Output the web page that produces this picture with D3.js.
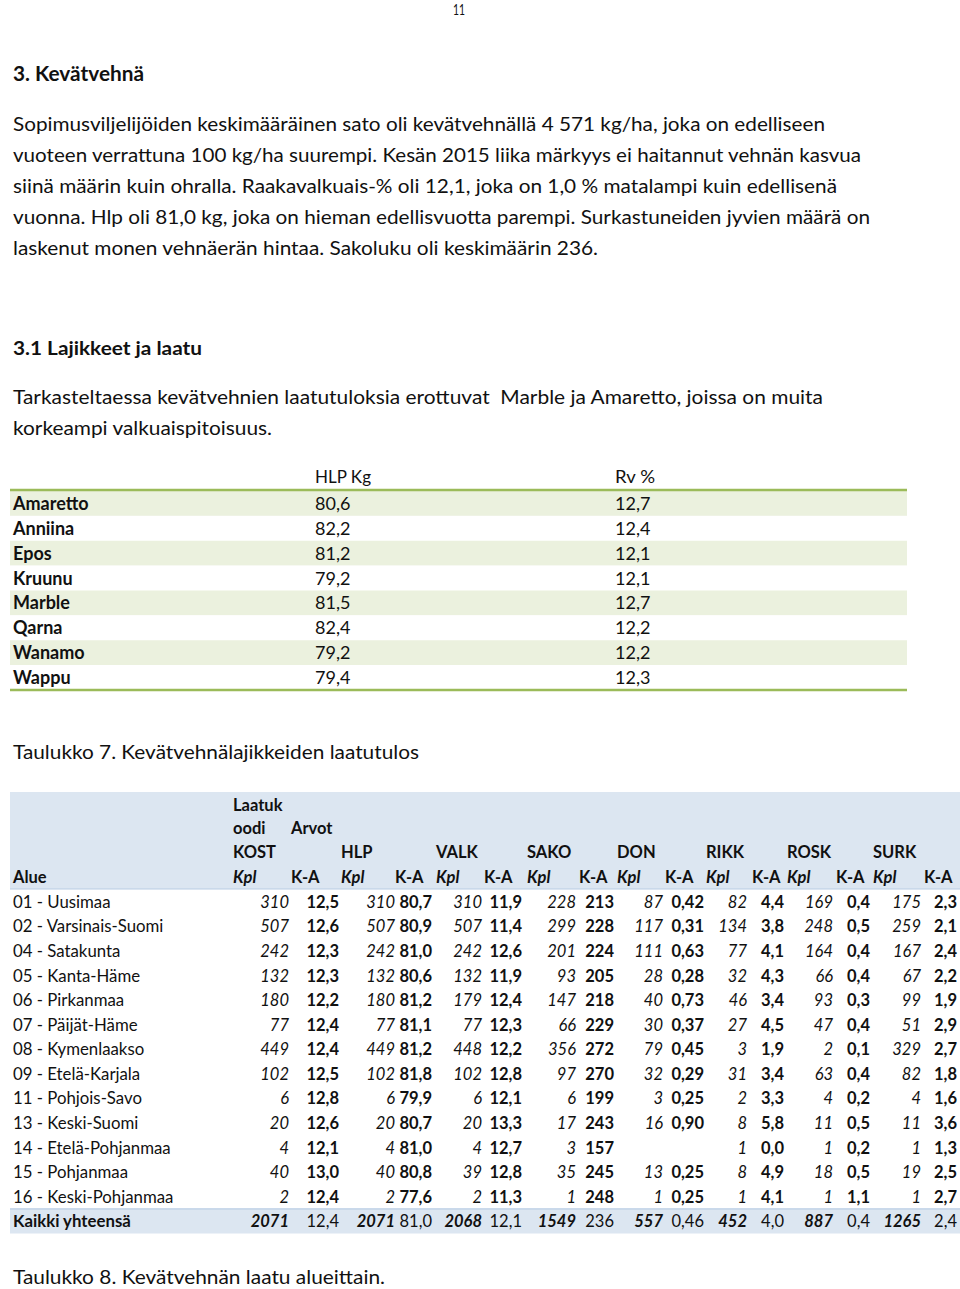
<!DOCTYPE html>
<html>
<head>
<meta charset="utf-8">
<script src="https://cdn.jsdelivr.net/npm/d3@7"></script>
<style>
  body { margin: 0; background: #fff; }
  svg text { font-family: Lato, "Open Sans", sans-serif; fill: #111; white-space: pre; }
</style>
</head>
<body>
<svg width="960" height="1289"></svg>
<script>
// page text
var pageNo = "11";
var paragraph1 = [
  "Sopimusviljelijöiden keskimääräinen sato oli kevätvehnällä 4 571 kg/ha, joka on edelliseen",
  "vuoteen verrattuna 100 kg/ha suurempi. Kesän 2015 liika märkyys ei haitannut vehnän kasvua",
  "siinä määrin kuin ohralla. Raakavalkuais-% oli 12,1, joka on 1,0 % matalampi kuin edellisenä",
  "vuonna. Hlp oli 81,0 kg, joka on hieman edellisvuotta parempi. Surkastuneiden jyvien määrä on",
  "laskenut monen vehnäerän hintaa. Sakoluku oli keskimäärin 236."
];
var paragraph2 = [
  "Tarkasteltaessa kevätvehnien laatutuloksia erottuvat  Marble ja Amaretto, joissa on muita",
  "korkeampi valkuaispitoisuus."
];

// Taulukko 7
var varieties = ["Amaretto", "Anniina", "Epos", "Kruunu", "Marble", "Qarna", "Wanamo", "Wappu"];
var hlpKg = [80.6, 82.2, 81.2, 79.2, 81.5, 82.4, 79.2, 79.4];
var rvPct = [12.7, 12.4, 12.1, 12.1, 12.7, 12.2, 12.2, 12.3];

// Taulukko 8
var regions = ["01 - Uusimaa", "02 - Varsinais-Suomi", "04 - Satakunta", "05 - Kanta-Häme",
  "06 - Pirkanmaa", "07 - Päijät-Häme", "08 - Kymenlaakso", "09 - Etelä-Karjala",
  "11 - Pohjois-Savo", "13 - Keski-Suomi", "14 - Etelä-Pohjanmaa", "15 - Pohjanmaa",
  "16 - Keski-Pohjanmaa", "Kaikki yhteensä"];
var measures = ["KOST", "HLP", "VALK", "SAKO", "DON", "RIKK", "ROSK", "SURK"];
var kostKpl = [310, 507, 242, 132, 180, 77, 449, 102, 6, 20, 4, 40, 2, 2071];
var kostKA  = [12.5, 12.6, 12.3, 12.3, 12.2, 12.4, 12.4, 12.5, 12.8, 12.6, 12.1, 13.0, 12.4, 12.4];
var hlpKpl  = [310, 507, 242, 132, 180, 77, 449, 102, 6, 20, 4, 40, 2, 2071];
var hlpKA   = [80.7, 80.9, 81.0, 80.6, 81.2, 81.1, 81.2, 81.8, 79.9, 80.7, 81.0, 80.8, 77.6, 81.0];
var valkKpl = [310, 507, 242, 132, 179, 77, 448, 102, 6, 20, 4, 39, 2, 2068];
var valkKA  = [11.9, 11.4, 12.6, 11.9, 12.4, 12.3, 12.2, 12.8, 12.1, 13.3, 12.7, 12.8, 11.3, 12.1];
var sakoKpl = [228, 299, 201, 93, 147, 66, 356, 97, 6, 17, 3, 35, 1, 1549];
var sakoKA  = [213, 228, 224, 205, 218, 229, 272, 270, 199, 243, 157, 245, 248, 236];
var donKpl  = [87, 117, 111, 28, 40, 30, 79, 32, 3, 16, null, 13, 1, 557];
var donKA   = [0.42, 0.31, 0.63, 0.28, 0.73, 0.37, 0.45, 0.29, 0.25, 0.90, null, 0.25, 0.25, 0.46];
var rikkKpl = [82, 134, 77, 32, 46, 27, 3, 31, 2, 8, 1, 8, 1, 452];
var rikkKA  = [4.4, 3.8, 4.1, 4.3, 3.4, 4.5, 1.9, 3.4, 3.3, 5.8, 0.0, 4.9, 4.1, 4.0];
var roskKpl = [169, 248, 164, 66, 93, 47, 2, 63, 4, 11, 1, 18, 1, 887];
var roskKA  = [0.4, 0.5, 0.4, 0.4, 0.3, 0.4, 0.1, 0.4, 0.2, 0.5, 0.2, 0.5, 1.1, 0.4];
var surkKpl = [175, 259, 167, 67, 99, 51, 329, 82, 4, 11, 1, 19, 1, 1265];
var surkKA  = [2.3, 2.1, 2.4, 2.2, 1.9, 2.9, 2.7, 1.8, 1.6, 3.6, 1.3, 2.5, 2.7, 2.4];

var fi = d3.formatLocale({decimal: ",", thousands: "", grouping: [3], currency: ["", ""]});

var svg = d3.select("svg");
svg.append("rect").attr("width", 960).attr("height", 1289).attr("fill", "#fff");

// helper: text line, optionally stretched to a measured width
function line(x, y, str, size, opts) {
  opts = opts || {};
  var t = svg.append("text")
    .attr("x", x).attr("y", y)
    .attr("font-size", size)
    .attr("font-weight", opts.bold ? "bold" : null)
    .attr("font-style", opts.italic ? "italic" : null)
    .attr("text-anchor", opts.anchor || "start")
    .text(str);
  if (opts.width) t.attr("textLength", opts.width).attr("lengthAdjust", "spacingAndGlyphs");
  return t;
}

line(459, 15, pageNo, 16, {anchor: "middle", width: 12});
line(13, 81, "3. Kevätvehnä", 20, {bold: true, width: 131});

var paraW1 = [812, 848, 824, 857, 585];
paragraph1.forEach(function(s, i) { line(13, 131 + i * 31, s, 19.5, {width: paraW1[i]}); });
line(13, 355, "3.1 Lajikkeet ja laatu", 19.5, {bold: true, width: 189});
var paraW2 = [810, 259];
paragraph2.forEach(function(s, i) { line(13, 404 + i * 31, s, 19.5, {width: paraW2[i]}); });

// ---------- Taulukko 7 ----------
var t7y = d3.scaleBand().domain(varieties).range([491, 690]).paddingInner(0);
var t7 = svg.append("g");
t7.selectAll("rect.band").data(varieties).enter().append("rect")
  .attr("x", 10).attr("width", 897)
  .attr("y", function(d) { return t7y(d); })
  .attr("height", t7y.bandwidth())
  .attr("fill", function(d, i) { return i % 2 === 0 ? "#ebf1de" : "#fff"; });
t7.append("line").attr("x1", 10).attr("x2", 907).attr("y1", 490).attr("y2", 490)
  .attr("stroke", "#9bbb59").attr("stroke-width", 2.5);
t7.append("line").attr("x1", 10).attr("x2", 907).attr("y1", 690).attr("y2", 690)
  .attr("stroke", "#9bbb59").attr("stroke-width", 2.5);
line(315, 483, "HLP Kg", 17.5, {width: 56});
line(615, 483, "Rv %", 17.5, {width: 40});
var fmt1 = fi.format(".1f");
varieties.forEach(function(v, i) {
  var cy = t7y(v) + t7y.bandwidth() / 2 + 6.5;
  line(13, cy, v, 18, {bold: true});
  line(315, cy, fmt1(hlpKg[i]), 18);
  line(615, cy, fmt1(rvPct[i]), 18);
});
line(13, 759, "Taulukko 7. Kevätvehnälajikkeiden laatutulos", 19.5, {width: 406});

// ---------- Taulukko 8 ----------
var t8y = d3.scaleBand().domain(regions).range([889.5, 1233.5]);
var t8 = svg.append("g");
t8.append("rect").attr("x", 10).attr("y", 792).attr("width", 950).attr("height", 97).attr("fill", "#dce6f1");
t8.append("rect").attr("x", 10).attr("y", t8y("Kaikki yhteensä")).attr("width", 950)
  .attr("height", t8y.bandwidth()).attr("fill", "#dce6f1");
t8.append("line").attr("x1", 10).attr("x2", 960).attr("y1", 889).attr("y2", 889)
  .attr("stroke", "#b8cce4").attr("stroke-width", 1.2);
t8.append("line").attr("x1", 10).attr("x2", 960)
  .attr("y1", t8y("Kaikki yhteensä")).attr("y2", t8y("Kaikki yhteensä"))
  .attr("stroke", "#b8cce4").attr("stroke-width", 1.2);

// column layout: header left, Kpl right edge, K-A header left, K-A right edge
var cols = [
  {m: "KOST", kpl: kostKpl, ka: kostKA, f: ".1f", hx: 233, kr: 289, kah: 291, ar: 339},
  {m: "HLP",  kpl: hlpKpl,  ka: hlpKA,  f: ".1f", hx: 341, kr: 395, kah: 395, ar: 432},
  {m: "VALK", kpl: valkKpl, ka: valkKA, f: ".1f", hx: 436, kr: 482, kah: 484, ar: 522},
  {m: "SAKO", kpl: sakoKpl, ka: sakoKA, f: "d",   hx: 527, kr: 576, kah: 579, ar: 614},
  {m: "DON",  kpl: donKpl,  ka: donKA,  f: ".2f", hx: 617, kr: 663, kah: 665, ar: 704},
  {m: "RIKK", kpl: rikkKpl, ka: rikkKA, f: ".1f", hx: 706, kr: 747, kah: 752, ar: 784},
  {m: "ROSK", kpl: roskKpl, ka: roskKA, f: ".1f", hx: 787, kr: 833, kah: 836, ar: 870},
  {m: "SURK", kpl: surkKpl, ka: surkKA, f: ".1f", hx: 873, kr: 921, kah: 924, ar: 957}
];
var hs = 16.5;
line(233, 811, "Laatuk", hs, {bold: true});
line(233, 834, "oodi", hs, {bold: true});
line(291, 834, "Arvot", hs, {bold: true});
line(13, 883, "Alue", hs, {bold: true});
cols.forEach(function(c) {
  line(c.hx, 858, c.m, hs, {bold: true});
  line(c.hx, 883, "Kpl", hs, {bold: true, italic: true});
  line(c.kah, 883, "K-A", hs, {bold: true});
});

var last = regions.length - 1;
regions.forEach(function(r, i) {
  var by = t8y(r) + t8y.bandwidth() / 2 + 6;
  var total = i === last;
  line(13, by, r, 16.8, {bold: total});
  cols.forEach(function(c) {
    if (c.kpl[i] != null)
      line(c.kr, by, fi.format("d")(c.kpl[i]), 16.5, {italic: true, bold: total, anchor: "end"});
    if (c.ka[i] != null)
      line(c.ar, by, fi.format(c.f)(c.ka[i]), 16.5, {bold: !total, anchor: "end"});
  });
});

line(13, 1284, "Taulukko 8. Kevätvehnän laatu alueittain.", 19, {width: 372});
</script>
</body>
</html>
